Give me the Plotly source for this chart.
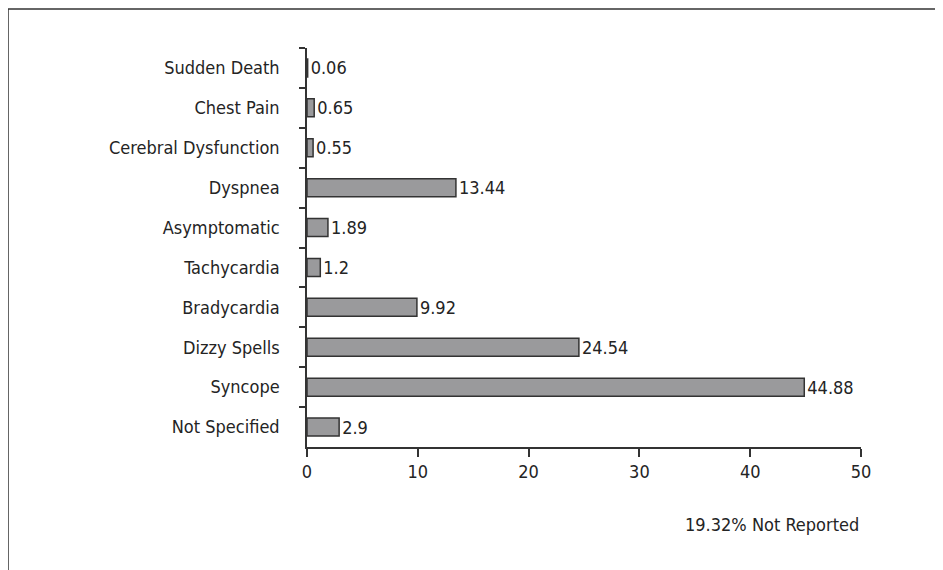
import plotly.graph_objects as go

# symptom categories, top to bottom as shown
symptoms = ['Sudden Death', 'Chest Pain', 'Cerebral Dysfunction', 'Dyspnea',
            'Asymptomatic', 'Tachycardia', 'Bradycardia', 'Dizzy Spells',
            'Syncope', 'Not Specified']
percent = [0.06, 0.65, 0.55, 13.44, 1.89, 1.2, 9.92, 24.54, 44.88, 2.9]
value_labels = ['0.06', '0.65', '0.55', '13.44', '1.89', '1.2', '9.92', '24.54', '44.88', '2.9']
x_ticks = [0, 10, 20, 30, 40, 50]
note = '19.32% Not Reported'

FONT = 'DejaVu Sans Condensed, Liberation Sans Narrow, Roboto, sans-serif'
INK = '#242424'
SIZE = 18

fig = go.Figure(go.Bar(
    x=percent,
    y=symptoms,
    orientation='h',
    width=0.45,
    marker=dict(color='#9a9a9c', line=dict(color='#333333', width=1.5)),
    text=value_labels,
    textposition='outside',
    constraintext='none',
    cliponaxis=False,
    textfont=dict(family=FONT, size=SIZE, color=INK),
))

# page body adds 8px margin, figure runs to the bottom of the window
fig.update_layout(
    width=927,
    height=562,
    margin=dict(l=299, r=74, t=40, b=123),
    plot_bgcolor='white',
    paper_bgcolor='white',
    showlegend=False,
    font=dict(family=FONT, size=SIZE, color=INK),
    xaxis=dict(
        range=[0, 50],
        tickvals=x_ticks,
        ticks='outside',
        ticklen=8,
        tickwidth=1.5,
        tickcolor='#333333',
        showline=True,
        linecolor='#333333',
        linewidth=1.5,
        showgrid=False,
        zeroline=False,
        tickfont=dict(family=FONT, size=SIZE, color=INK),
    ),
    yaxis=dict(
        autorange='reversed',
        tickson='boundaries',
        ticks='outside',
        ticklen=6,
        tickwidth=1.5,
        tickcolor='#333333',
        showline=True,
        linecolor='#333333',
        linewidth=1.5,
        showgrid=False,
        ticklabelstandoff=22,
        tickfont=dict(family=FONT, size=SIZE, color=INK),
    ),
)

fig.add_annotation(
    x=50, xref='x', xanchor='right',
    y=-0.195, yref='paper', yanchor='middle',
    text=note, showarrow=False,
    font=dict(family=FONT, size=SIZE, color=INK),
)

# outer frame (left and top edges only visible)
frame = dict(color='#333333', width=1.5)
fig.add_shape(type='line', xref='paper', yref='paper',
              x0=-0.5397, x1=-0.5397, y0=1.0977, y1=-0.5, line=frame)
fig.add_shape(type='line', xref='paper', yref='paper',
              x0=-0.5397, x1=1.2, y0=1.0977, y1=1.0977, line=frame)

fig.write_html('out.html')
